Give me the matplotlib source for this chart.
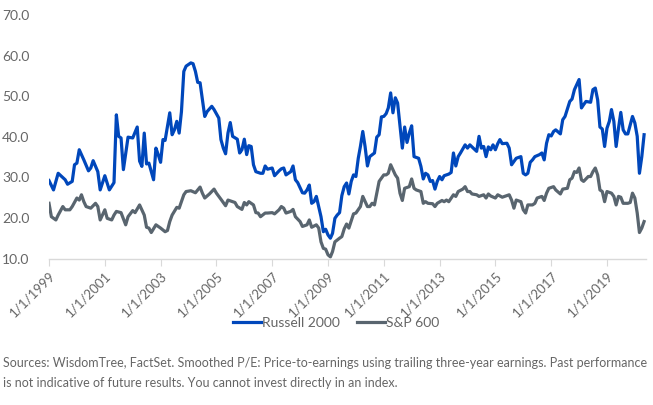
import numpy as np
import pandas as pd
import matplotlib
matplotlib.use("Agg")
import matplotlib.pyplot as plt

plt.rcParams['font.family'] = ['Lato', 'DejaVu Sans']

# month index counted from Jan 1999 (0 = 1/1/1999)
r2k_month = [0, 2, 4, 7, 8, 10, 11, 12, 13, 15, 17, 18, 19, 21, 22, 24, 26, 28, 29, 30,
             31, 32, 34, 36, 38, 39, 40, 41, 42, 43, 45, 46, 47, 48, 49, 50, 51, 52, 53, 54,
             55, 56, 57, 58, 59, 61, 62, 63, 64, 65, 67, 68, 70, 71, 73, 74, 75, 76, 77, 78,
             79, 81, 82, 83, 84, 85, 86, 87, 88, 89, 91, 92, 93, 94, 96, 97, 99, 100, 101, 102,
             104, 105, 106, 107, 109, 110, 111, 112, 113, 114, 115, 117, 118, 119, 120, 121, 122, 123, 124, 125,
             126, 127, 128, 129, 130, 131, 132, 133, 134, 135, 136, 137, 138, 140, 141, 142, 143, 144, 145, 146,
             147, 148, 149, 150, 152, 153, 154, 155, 156, 157, 159, 160, 161, 162, 163, 164, 165, 166, 167, 168,
             169, 170, 172, 173, 174, 175, 176, 177, 179, 180, 181, 182, 184, 185, 186, 187, 188, 189, 190, 191,
             192, 193, 194, 195, 197, 198, 199, 200, 201, 203, 204, 205, 206, 207, 208, 209, 211, 212, 213, 214,
             215, 216, 217, 218, 220, 221, 222, 224, 225, 226, 227, 228, 229, 230, 231, 233, 234, 235, 236, 237,
             238, 239, 240, 241, 242, 243, 244, 245, 246, 247, 248, 249, 251, 252, 253, 254, 255, 256]
r2k_pe = [29.2, 26.9, 31.0, 29.4, 28.3, 29.0, 33.1, 33.5, 36.8, 34.3, 31.6, 32.3, 34.1, 31.4, 26.9, 30.4, 26.9, 28.7, 45.4, 40.1,
          39.7, 31.9, 39.9, 39.7, 42.4, 34.0, 32.7, 40.9, 33.3, 33.5, 29.4, 37.2, 35.6, 33.7, 39.3, 39.1, 42.5, 45.9, 40.5, 41.7,
          43.8, 40.9, 46.2, 56.1, 57.4, 58.2, 58.0, 56.1, 53.4, 53.3, 45.0, 46.2, 47.5, 46.7, 44.6, 39.3, 37.2, 35.8, 40.9, 43.5,
          40.1, 39.4, 36.0, 36.8, 39.4, 35.6, 37.8, 37.6, 33.1, 31.4, 31.0, 31.0, 32.8, 32.0, 32.3, 30.4, 31.6, 32.1, 32.3, 30.6,
          31.4, 32.8, 29.4, 28.7, 26.2, 26.1, 26.9, 28.1, 23.6, 24.0, 25.3, 20.3, 16.6, 17.2, 15.8, 15.0, 16.2, 19.9, 20.7, 21.3,
          25.5, 27.7, 28.6, 25.9, 29.0, 30.6, 30.2, 34.7, 37.6, 41.3, 37.6, 32.8, 35.1, 36.0, 39.9, 40.5, 44.9, 45.0, 45.7, 47.1,
          50.8, 45.9, 49.6, 48.3, 37.2, 42.4, 38.6, 40.9, 42.7, 35.1, 34.7, 32.7, 29.6, 31.0, 30.6, 29.0, 29.2, 27.1, 29.0, 30.2,
          29.4, 30.4, 30.8, 31.2, 36.0, 32.8, 35.1, 36.0, 38.0, 37.2, 38.0, 37.5, 36.4, 40.1, 37.2, 37.6, 35.1, 37.5, 36.8, 38.0,
          36.8, 38.3, 39.3, 38.3, 38.4, 37.2, 33.1, 33.9, 34.7, 35.1, 31.0, 30.6, 31.0, 33.7, 34.3, 35.1, 35.6, 36.0, 34.3, 38.4,
          40.5, 40.2, 41.3, 41.7, 40.7, 44.2, 45.0, 48.7, 49.3, 51.6, 52.8, 54.1, 47.1, 47.9, 48.7, 48.5, 51.6, 52.0, 49.1, 42.4,
          41.9, 37.6, 42.1, 43.8, 46.7, 43.8, 37.6, 42.1, 46.0, 41.7, 40.7, 40.7, 45.0, 43.4, 40.1, 31.0, 35.1, 40.5]

sp600_month = [0, 1, 3, 4, 6, 7, 9, 10, 12, 13, 14, 15, 16, 18, 20, 21, 22, 24, 25, 27,
               28, 29, 31, 33, 34, 36, 37, 39, 40, 41, 42, 43, 44, 46, 48, 50, 51, 52, 53, 55,
               56, 57, 58, 59, 61, 63, 65, 66, 67, 69, 71, 72, 74, 76, 77, 80, 81, 83, 84, 85,
               86, 88, 89, 90, 91, 93, 94, 96, 97, 99, 100, 101, 102, 104, 105, 106, 108, 109, 111, 112,
               113, 115, 116, 117, 118, 119, 120, 121, 122, 123, 125, 126, 127, 128, 129, 131, 132, 134, 135, 137,
               138, 139, 140, 141, 142, 144, 145, 146, 147, 149, 150, 151, 152, 153, 155, 156, 157, 158, 160, 161,
               162, 163, 165, 166, 167, 169, 170, 171, 172, 174, 175, 176, 178, 179, 180, 181, 182, 184, 185, 187,
               188, 189, 190, 192, 193, 195, 196, 198, 199, 200, 201, 203, 204, 205, 206, 208, 209, 210, 212, 213,
               214, 215, 217, 218, 220, 221, 223, 224, 225, 226, 227, 228, 229, 230, 232, 233, 234, 235, 236, 237,
               238, 239, 240, 242, 243, 244, 245, 246, 247, 249, 250, 251, 252, 253, 254, 255, 256]
sp600_pe = [23.6, 20.3, 19.5, 20.7, 22.8, 22.0, 22.0, 22.8, 24.9, 24.4, 25.7, 24.0, 22.8, 22.4, 23.6, 22.8, 19.5, 22.0, 19.9, 19.5,
            20.7, 21.6, 21.3, 18.3, 20.3, 21.8, 21.3, 23.2, 22.0, 20.7, 17.7, 17.5, 16.4, 18.3, 17.5, 16.6, 16.9, 19.1, 20.7, 22.6,
            22.4, 24.0, 25.7, 26.5, 26.7, 26.2, 27.6, 26.1, 24.9, 25.9, 27.1, 26.1, 24.6, 23.0, 24.4, 23.8, 22.8, 22.1, 23.8, 23.2,
            24.0, 23.2, 21.3, 21.2, 20.3, 21.2, 21.2, 21.3, 21.0, 22.0, 22.8, 22.4, 21.2, 21.6, 22.1, 20.3, 19.1, 17.9, 18.3, 19.5,
            17.7, 18.3, 17.5, 14.1, 12.5, 12.3, 10.9, 10.4, 11.7, 14.1, 15.0, 15.4, 17.3, 18.5, 17.5, 21.0, 21.2, 22.8, 25.3, 22.8,
            22.8, 23.6, 23.2, 26.1, 29.0, 30.6, 30.6, 31.0, 33.1, 30.6, 29.8, 26.1, 24.3, 27.3, 27.7, 29.6, 27.3, 26.9, 26.5, 23.6,
            24.0, 23.6, 23.5, 22.8, 23.6, 24.3, 24.0, 24.4, 24.0, 25.7, 25.3, 26.5, 27.1, 27.7, 26.5, 26.5, 25.9, 25.7, 25.3, 25.7,
            24.9, 25.9, 25.4, 24.9, 25.7, 25.1, 25.3, 25.7, 24.4, 22.4, 24.4, 24.0, 22.0, 21.2, 23.2, 23.2, 23.6, 24.9, 25.3, 24.3,
            26.1, 27.3, 27.7, 26.9, 25.9, 27.1, 27.3, 29.4, 29.8, 31.4, 31.2, 32.3, 29.4, 29.0, 30.2, 30.2, 31.4, 32.3, 30.6, 26.9,
            26.5, 24.0, 26.5, 26.1, 25.3, 23.2, 25.3, 25.1, 23.6, 23.6, 23.8, 26.1, 24.9, 21.2, 16.4, 17.5, 19.1]

tick_years = list(range(1999, 2021, 2))
source_note = ("Sources: WisdomTree, FactSet. Smoothed P/E: Price-to-earnings using trailing three-year earnings. Past performance\n"
               "is not indicative of future results. You cannot invest directly in an index.")

months = pd.date_range("1999-01-01", periods=258, freq="MS")
r2k_dates = months[r2k_month]
sp600_dates = months[sp600_month]

BLUE = "#0047BB"
GRAY = "#59656F"
TXT = "#666666"

fig = plt.figure(figsize=(6.53, 4.05), dpi=100)
ax = fig.add_axes([49 / 653, 1 - 258.5 / 405, (646 - 49) / 653, (258.5 - 15) / 405])

ax.plot(r2k_dates, r2k_pe, color=BLUE, lw=2.3, label="Russell 2000", solid_joinstyle="round")
ax.plot(sp600_dates, sp600_pe, color=GRAY, lw=2.3, label="S&P 600", solid_joinstyle="round")

ax.set_ylim(10, 70)
ax.set_yticks(np.arange(10, 71, 10))
ax.set_yticklabels([f"{v:.1f}" for v in np.arange(10, 71, 10)])
ax.set_xlim(months[0], months[0] + pd.DateOffset(days=int(256.8 * 30.44)))
ticks = [pd.Timestamp(f"{y}-01-01") for y in tick_years]
ax.set_xticks(ticks)
ax.set_xticklabels([f"1/1/{y}" for y in tick_years], rotation=45, ha="right", rotation_mode="anchor")

for s in ["top", "right", "left"]:
    ax.spines[s].set_visible(False)
ax.spines["bottom"].set_color("#D9D9D9")
ax.spines["bottom"].set_linewidth(1.0)
ax.tick_params(axis="y", length=0, pad=14, labelsize=10, labelcolor=TXT)
ax.tick_params(axis="x", length=5, color="#D9D9D9", pad=3, labelsize=9.5, labelcolor=TXT)

fig.legend(loc="center", bbox_to_anchor=(0.515, 1 - 323 / 405), ncol=2, frameon=False,
           fontsize=10, labelcolor=TXT, handlelength=2.0, handletextpad=0.1, columnspacing=1.2)

fig.text(3 / 653, 1 - 373 / 405, source_note, fontsize=9.0, color=TXT, va="center", ha="left",
         linespacing=1.75)

fig.savefig("out.png", dpi=100)
